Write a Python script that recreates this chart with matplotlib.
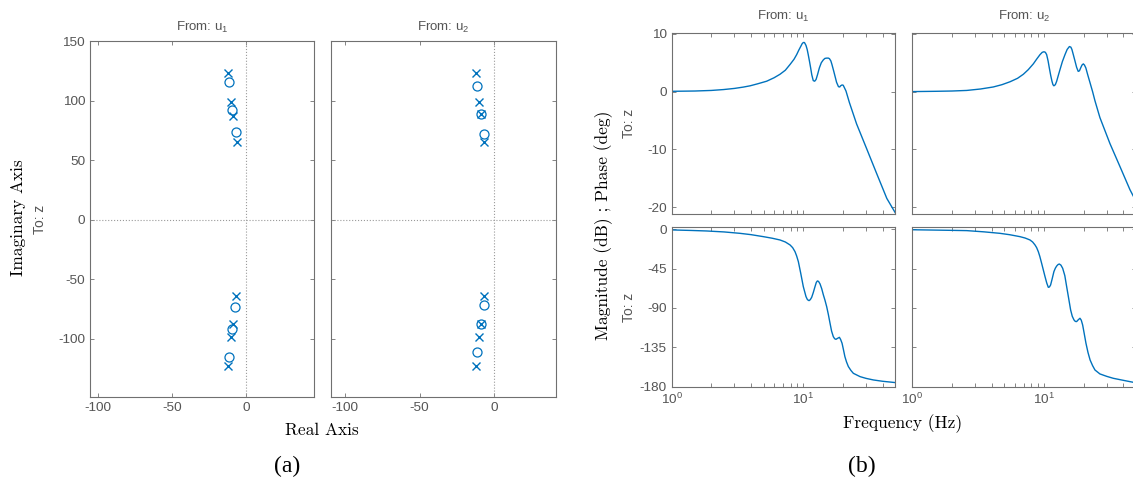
import matplotlib
matplotlib.use('Agg')
import matplotlib.pyplot as plt
from matplotlib.ticker import FixedLocator, NullFormatter

plt.rcParams['axes.unicode_minus'] = False
plt.rcParams['mathtext.fontset'] = 'custom'
plt.rcParams['mathtext.rm'] = 'Liberation Sans'
plt.rcParams['mathtext.it'] = 'Liberation Sans:italic'
plt.rcParams['font.family'] = 'Liberation Sans'

# ---------------- data: pole-zero maps (real, imag) ----------------
poles1_re = [-12.6, -10.1, -9.0, -6.6, -12.6, -10.3, -9.2, -6.7]
poles1_im = [122.9, 98.5, 87.2, 64.9, -123.1, -98.5, -87.3, -64.3]
zeros1_re = [-11.7, -9.9, -7.2, -11.7, -9.6, -7.4]
zeros1_im = [115.8, 92.0, 73.3, -115.3, -92.3, -73.3]

poles2_re = [-12.3, -9.9, -8.9, -7.0, -12.3, -9.9, -9.0, -6.8]
poles2_im = [122.9, 98.5, 88.5, 65.5, -123.1, -98.5, -87.8, -64.5]
zeros2_re = [-11.4, -8.9, -7.1, -11.4, -9.1, -6.9]
zeros2_im = [112.0, 88.5, 72.0, -111.5, -87.8, -71.5]

# ---------------- data: Bode (Hz, dB / deg) ----------------
mag1_f = [1.0, 1.5, 2.0, 2.47, 3.0, 3.5, 3.94, 4.5, 5.27, 6.0, 6.65, 7.3, 7.93, 8.5, 8.9,
          9.25, 9.55, 9.8, 10.0, 10.2, 10.48, 10.7, 10.9, 11.15, 11.37, 11.6, 11.9, 12.2,
          12.5, 12.85, 13.24, 13.7, 14.2, 14.6, 15.05, 15.5, 15.8, 16.2, 16.5, 17.0, 17.4,
          17.9, 18.5, 18.9, 19.2, 19.7, 20.1, 20.6, 21.1, 22.4, 25.4, 30.3, 36.1, 43.1, 50.0]
mag1_db = [0.05, 0.1, 0.2, 0.35, 0.55, 0.78, 1.0, 1.35, 1.8, 2.4, 3.0, 3.7, 4.7, 5.6, 6.4,
           7.2, 7.8, 8.3, 8.5, 8.5, 8.0, 7.3, 6.4, 5.2, 4.1, 2.9, 1.9, 1.8,
           2.1, 3.0, 4.1, 5.0, 5.5, 5.75, 5.8, 5.8, 5.7, 5.3, 4.7, 3.6, 2.7,
           1.6, 0.85, 0.8, 1.0, 1.15, 1.1, 0.6, 0.1, -1.9, -5.6, -9.9, -14.2, -18.5, -21.0]

mag2_f = [1.0, 1.5, 2.0, 2.59, 3.3, 4.12, 4.8, 5.52, 6.3, 6.97, 7.6, 8.3, 8.85, 9.33, 9.7,
          10.0, 10.25, 10.48, 10.75, 10.98, 11.25, 11.5, 11.7, 11.9, 12.2, 12.49, 12.85,
          13.23, 13.8, 14.44, 15.0, 15.6, 16.0, 16.3, 16.75, 17.2, 17.7, 18.2, 18.6, 19.0,
          19.45, 19.9, 20.3, 20.8, 21.5, 22.4, 23.4, 24.4, 26.6, 31.7, 37.8, 45.0, 50.0]
mag2_db = [0.0, 0.05, 0.1, 0.2, 0.45, 0.8, 1.2, 1.7, 2.3, 3.0, 3.8, 4.8, 5.7, 6.4, 6.8,
           6.9, 6.8, 6.4, 5.3, 4.1, 2.8, 1.8, 1.2, 1.0, 1.2, 1.8, 2.8,
           3.8, 5.2, 6.4, 7.3, 7.8, 7.7, 7.3, 6.3, 5.3, 4.2, 3.5, 3.6, 4.1,
           4.6, 4.8, 4.6, 4.1, 2.9, 1.5, 0.0, -1.6, -4.5, -9.0, -13.0, -17.0, -19.0]

ph1_f = [1.0, 1.4, 1.84, 2.5, 3.3, 4.0, 4.97, 5.8, 6.65, 7.3, 7.93, 8.3, 8.65, 8.9, 9.17,
         9.55, 10.0, 10.48, 10.75, 11.05, 11.3, 11.58, 11.9, 12.27, 12.55, 12.79, 13.05,
         13.4, 13.8, 14.2, 14.6, 15.05, 15.5, 15.96, 16.4, 16.9, 17.3, 17.7, 18.2, 18.8,
         19.2, 19.7, 20.2, 20.7, 21.3, 22.0, 23.0, 24.0, 27.0, 30.0, 34.1, 40.0, 50.0]
ph1_deg = [-0.7, -1.3, -1.9, -3.0, -4.6, -6.1, -8.4, -10.2, -12.2, -14.5, -17.9, -21.0, -25.6, -30.5, -37.0,
           -50.0, -65.6, -77.0, -80.5, -81.6, -80.5, -77.8, -72.5, -65.6, -60.8, -59.1, -59.6,
           -62.5, -68.0, -75.0, -81.0, -88.5, -97.5, -107.5, -116.5, -122.8, -125.2, -125.9, -124.8, -123.6,
           -126.0, -130.4, -138.0, -145.7, -151.8, -157.1, -161.5, -164.8, -168.6, -170.6, -172.4, -173.9, -175.4]

ph2_f = [1.0, 1.5, 2.0, 2.59, 3.5, 4.63, 5.5, 6.57, 7.2, 7.83, 8.2, 8.55, 8.8, 9.06, 9.3,
         9.6, 10.18, 10.5, 10.79, 11.0, 11.23, 11.55, 11.9, 12.2, 12.49, 12.8, 13.08, 13.45,
         13.87, 14.4, 14.87, 15.4, 15.94, 16.4, 16.9, 17.3, 17.7, 18.2, 18.77, 19.2, 19.67,
         20.2, 20.84, 21.6, 22.4, 23.4, 24.4, 26.6, 30.0, 33.6, 40.0, 47.4, 50.0]
ph2_deg = [-0.5, -0.9, -1.2, -1.5, -2.9, -4.6, -6.2, -8.4, -10.0, -12.2, -14.5, -17.9, -21.0, -25.6, -31.0,
           -38.9, -54.0, -61.5, -66.4, -66.0, -63.7, -56.5, -48.4, -44.5, -42.0, -40.3, -39.7, -41.0,
           -44.6, -53.0, -65.6, -79.0, -92.3, -99.5, -103.7, -105.4, -105.6, -103.6, -101.8, -104.0, -109.5,
           -119.0, -130.4, -141.0, -149.5, -156.0, -161.0, -165.5, -168.3, -170.5, -172.8, -175.0, -175.3]

pz_xticks = [-100, -50, 0]
pz_yticks = [-100, -50, 0, 50, 100, 150]
mag_yticks = [-20, -10, 0, 10]
ph_yticks = [-180, -135, -90, -45, 0]
bode_xticks = [1, 10]
bode_xticklabels = ['$10^{0}$', '$10^{1}$']

# ---------------- styling ----------------
W, H = 1133, 486
BLUE = '#0072BD'
SPINE = '#707070'
TXT = '#555555'
DOT = '#9a9a9a'

fig = plt.figure(figsize=(W / 100, H / 100), dpi=100)


def pos(l, t, r, b):
    return [l / W, 1 - b / H, (r - l) / W, (b - t) / H]


def style(ax):
    for s in ax.spines.values():
        s.set_color(SPINE)
        s.set_linewidth(0.8)
    ax.tick_params(which='both', direction='in', top=True, right=True,
                   color=SPINE, labelcolor=TXT, labelsize=9.7, length=3, width=0.6)


# pole-zero maps
pz_specs = [
    (pos(90, 41, 314, 397), (-105.1, 45.5), poles1_re, poles1_im, zeros1_re, zeros1_im, True, 'From: u$_{1}$'),
    (pos(331, 41, 556, 397), (-109.4, 41.4), poles2_re, poles2_im, zeros2_re, zeros2_im, False, 'From: u$_{2}$'),
]
for rect, xl, pr, pi, zr, zi, lab, title in pz_specs:
    ax = fig.add_axes(rect)
    style(ax)
    ax.axvline(0, color=DOT, ls=':', lw=0.8)
    ax.axhline(0, color=DOT, ls=':', lw=0.8)
    ax.plot(pr, pi, ls='none', marker='x', color=BLUE, ms=6, mew=1.0)
    ax.plot(zr, zi, ls='none', marker='o', mfc='none', mec=BLUE, ms=6.5, mew=0.9)
    ax.set_xlim(*xl)
    ax.set_ylim(-149, 150)
    ax.set_xticks(pz_xticks)
    ax.set_yticks(pz_yticks)
    ax.set_xticklabels([str(v) for v in pz_xticks])
    if lab:
        ax.set_yticklabels([str(v) for v in pz_yticks])
    else:
        ax.set_yticklabels([])
    ax.text(0.5, 1.0 + 14 / 356, title, transform=ax.transAxes, ha='center', va='center',
            color=TXT, fontsize=9.5)

# Bode
bode_specs = [
    (pos(671.7, 32.7, 895.3, 214), mag1_f, mag1_db, (-21.2, 10.2), mag_yticks, True, False, 'From: u$_{1}$'),
    (pos(912.3, 32.7, 1136, 214), mag2_f, mag2_db, (-21.2, 10.2), mag_yticks, False, False, 'From: u$_{2}$'),
    (pos(671.7, 227.3, 895.3, 387.3), ph1_f, ph1_deg, (-180.8, 2.3), ph_yticks, True, True, None),
    (pos(912.3, 227.3, 1136, 387.3), ph2_f, ph2_deg, (-180.8, 2.3), ph_yticks, False, True, None),
]
for rect, f, v, yl, yt, ylab, xlab, title in bode_specs:
    ax = fig.add_axes(rect)
    style(ax)
    ax.plot(f, v, color=BLUE, lw=1.0)
    ax.set_xscale('log')
    ax.set_xlim(1, 50)
    ax.set_ylim(*yl)
    ax.set_yticks(yt)
    ax.set_yticklabels([str(t) for t in yt] if ylab else [])
    ax.xaxis.set_major_locator(FixedLocator(bode_xticks))
    ax.xaxis.set_minor_locator(FixedLocator([2, 3, 4, 5, 6, 7, 8, 9, 20, 30, 40, 50]))
    ax.xaxis.set_minor_formatter(NullFormatter())
    if xlab:
        ax.set_xticklabels(bode_xticklabels)
    else:
        ax.set_xticklabels([])
    if title:
        ax.text(0.5, 1.0 + 16 / 181.3, title, transform=ax.transAxes, ha='center', va='center',
                color=TXT, fontsize=9.5)

# labels
fig.text(18 / W, 1 - 218 / H, 'Imaginary Axis', rotation=90, family='cmr10', fontsize=12.5,
         ha='center', va='center')
fig.text(40 / W, 1 - 219 / H, 'To: z', rotation=90, color=TXT, fontsize=10, ha='center', va='center')
fig.text(322 / W, 1 - 430 / H, 'Real Axis', family='cmr10', fontsize=12.5, ha='center', va='center')
fig.text(287 / W, 1 - 466 / H, '(a)', family='Liberation Serif', fontsize=17, ha='center', va='center')

fig.text(604 / W, 1 - 225 / H, 'Magnitude (dB) ; Phase (deg)', rotation=90, family='cmr10',
         fontsize=12.5, ha='center', va='center')
fig.text(629 / W, 1 - 123 / H, 'To: z', rotation=90, color=TXT, fontsize=10, ha='center', va='center')
fig.text(629 / W, 1 - 307 / H, 'To: z', rotation=90, color=TXT, fontsize=10, ha='center', va='center')
fig.text(903 / W, 1 - 424 / H, 'Frequency (Hz)', family='cmr10', fontsize=12.5, ha='center', va='center')
fig.text(862 / W, 1 - 466 / H, '(b)', family='Liberation Serif', fontsize=17, ha='center', va='center')

fig.savefig('out.png', dpi=100)
